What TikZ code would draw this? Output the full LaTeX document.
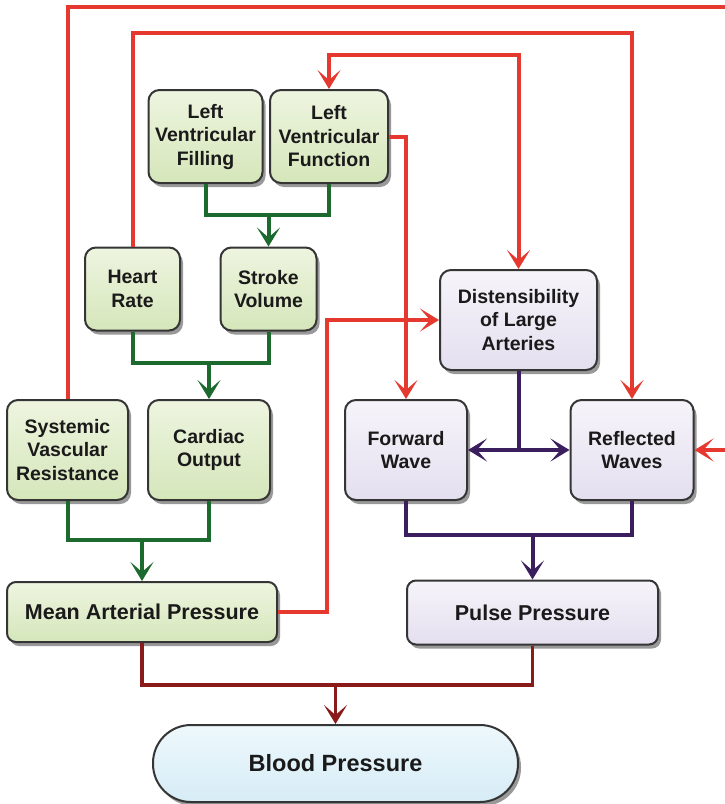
\documentclass[tikz,border=0pt]{standalone}
\usepackage{fontspec}
\setmainfont{Liberation Sans}
\usetikzlibrary{arrows.meta,shadows}

\definecolor{linkred}{HTML}{E5392F}
\definecolor{linkgreen}{HTML}{1C6A2E}
\definecolor{linkpurple}{HTML}{3A1E5E}
\definecolor{linkmaroon}{HTML}{8A1B1B}
\definecolor{boxline}{HTML}{353535}
\definecolor{greenhi}{HTML}{EEF5E0}
\definecolor{greenlo}{HTML}{D5E6BA}
\definecolor{purplehi}{HTML}{F6F4FA}
\definecolor{purplelo}{HTML}{E4DFEF}
\definecolor{bluehi}{HTML}{EEF8FC}
\definecolor{bluelo}{HTML}{D6ECF6}
\definecolor{inktext}{HTML}{1A1A1A}

\begin{document}
\begin{tikzpicture}[x=1pt,y=-1pt,
  box/.style={draw=boxline, line width=2pt, rounded corners=11pt,
    align=center, inner sep=0pt, text=inktext,
    font=\bfseries\fontsize{19.5}{23.5}\selectfont,
    drop shadow={shadow xshift=3pt, shadow yshift=-4pt, opacity=0.4, fill=black}},
  greenbox/.style={box, top color=greenhi, bottom color=greenlo},
  purplebox/.style={box, top color=purplehi, bottom color=purplelo},
  widebox/.style={font=\bfseries\fontsize{21.5}{25}\selectfont, rounded corners=9pt},
  tip/.style={-{Stealth[length=19pt,width=23pt,inset=10pt]}},
  bothtips/.style={{Stealth[length=19pt,width=23pt,inset=10pt]}-{Stealth[length=19pt,width=23pt,inset=10pt]}},
  redlink/.style={draw=linkred, line width=4pt},
  greenlink/.style={draw=linkgreen, line width=4pt},
  purplelink/.style={draw=linkpurple, line width=4pt},
  maroonlink/.style={draw=linkmaroon, line width=3.6pt}
]
\useasboundingbox (0,0) rectangle (725,804);

% ---- boxes ----
\node[greenbox, minimum width=114pt, minimum height=93pt] (lvfill) at (205.5,136.5) {Left\\Ventricular\\Filling};
\node[greenbox, minimum width=118pt, minimum height=93pt] (lvfunc) at (329,136.5) {Left\\Ventricular\\Function};
\node[greenbox, minimum width=95pt, minimum height=83pt] (hr) at (132.5,289) {Heart\\Rate};
\node[greenbox, minimum width=96pt, minimum height=83pt] (sv) at (268.5,289) {Stroke\\Volume};
\node[greenbox, minimum width=121pt, minimum height=100pt] (svr) at (67.5,450) {Systemic\\Vascular\\Resistance};
\node[greenbox, minimum width=122pt, minimum height=100pt] (co) at (209,450) {Cardiac\\Output};
\node[greenbox, widebox, minimum width=270pt, minimum height=60pt] (map) at (142,612) {Mean Arterial Pressure};

\node[purplebox, minimum width=157pt, minimum height=100pt] (dist) at (518.5,320) {Distensibility\\of Large\\Arteries};
\node[purplebox, minimum width=122pt, minimum height=100pt] (fw) at (406,450) {Forward\\Wave};
\node[purplebox, minimum width=123pt, minimum height=100pt] (rw) at (632,450) {Reflected\\Waves};
\node[purplebox, widebox, minimum width=251pt, minimum height=64pt] (pp) at (532.5,612.5) {Pulse Pressure};

\node[box, top color=bluehi, bottom color=bluelo, rounded corners=38pt,
      font=\bfseries\fontsize{23.5}{27}\selectfont,
      minimum width=365pt, minimum height=77pt] (bp) at (335.5,763.5) {Blood Pressure};

% ---- corner points of the long feedback lines ----
\coordinate (outerR) at (745,7);
\coordinate (lineB) at (0,33);
\coordinate (lineC) at (0,55);
\coordinate (mapRise) at (327,0);

% ---- junctions of merging lines ----
\coordinate (jsv) at (sv.north |- 0,215);
\coordinate (jco) at (co.north |- 0,363);
\coordinate (jmap) at (map.north |- 0,540);
\coordinate (jdist) at (dist.south |- fw.east);
\coordinate (jpp) at (pp.north |- 0,535);
\coordinate (jbp) at (bp.north |- 0,685);

% ---- red feedback lines ----
\draw[redlink, tip] (svr.north) |- (outerR) |- (rw.east);
\draw[redlink, tip] (hr.north) |- (rw.north |- lineB) -- (rw.north);
\draw[redlink, bothtips] (lvfunc.north) |- (dist.north |- lineC) -- (dist.north);
\draw[redlink, tip] (lvfunc.east) -| (fw.north);
\draw[redlink, tip] (map.east) -| (mapRise |- dist.west) -- (dist.west);

% ---- green merges ----
\draw[greenlink] (lvfill.south) |- (jsv) -| (lvfunc.south);
\draw[greenlink, tip] (jsv) -- (sv.north);
\draw[greenlink] (hr.south) |- (jco) -| (sv.south);
\draw[greenlink, tip] (jco) -- (co.north);
\draw[greenlink] (svr.south) |- (jmap) -| (co.south);
\draw[greenlink, tip] (jmap) -- (map.north);

% ---- purple lines ----
\draw[purplelink] (dist.south) -- (jdist);
\draw[purplelink, tip] (jdist) -- (fw.east);
\draw[purplelink, tip] (jdist) -- (rw.west);
\draw[purplelink] (fw.south) |- (jpp) -| (rw.south);
\draw[purplelink, tip] (jpp) -- (pp.north);

% ---- maroon merge into blood pressure ----
\draw[maroonlink] (map.south) |- (jbp) -| (pp.south);
\draw[maroonlink, tip] (jbp) -- (bp.north);
\end{tikzpicture}
\end{document}
